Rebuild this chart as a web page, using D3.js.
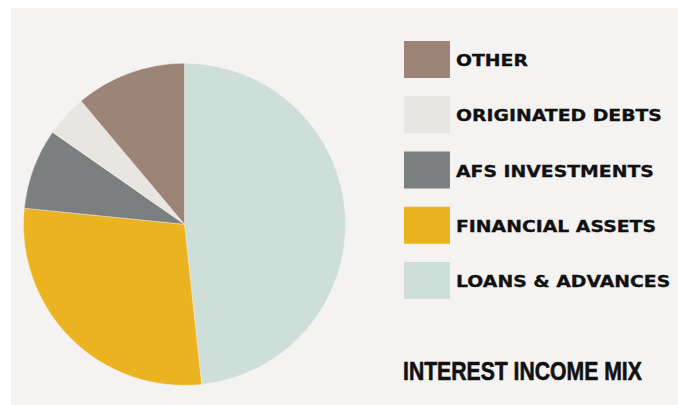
<!DOCTYPE html>
<html>
<head>
<meta charset="utf-8">
<script src="https://cdn.jsdelivr.net/npm/d3@7"></script>
<style>
  body { margin: 0; background: #ffffff; }
  svg { display: block; }
  .legend-label { font-family: "DejaVu Sans", "Liberation Sans", Arial, sans-serif; font-weight: bold; font-size: 15px; fill: #111; stroke: #111; stroke-width: 0.3px; }
  .title { font-family: "Liberation Sans Narrow", "Liberation Sans", Arial, sans-serif; font-weight: bold; font-size: 26px; fill: #111; stroke: #111; stroke-width: 0.6px; }
</style>
</head>
<body>
<svg width="678" height="405"></svg>
<script>
// **** data ****
var categories = ['LOANS & ADVANCES', 'FINANCIAL ASSETS', 'AFS INVESTMENTS', 'ORIGINATED DEBTS', 'OTHER'];
var shares = [48.3, 28.3, 8.1, 4.2, 11.1];
var colors = ['#cddfd8', '#ecb321', '#7b7f7f', '#e9e6e1', '#9c8477'];
// legend is listed top to bottom in reverse
var legendOrder = ['OTHER', 'ORIGINATED DEBTS', 'AFS INVESTMENTS', 'FINANCIAL ASSETS', 'LOANS & ADVANCES'];

var svg = d3.select('svg');

// panel
svg.append('rect')
    .attr('x', 11).attr('y', 8)
    .attr('width', 667).attr('height', 397)
    .attr('fill', '#f4f3f1');

var color = d3.scaleOrdinal().domain(categories).range(colors);

var data = categories.map(function (c, i) { return { name: c, value: shares[i] }; });

var pie = d3.pie().sort(null).value(function (d) { return d.value; });
var arc = d3.arc().innerRadius(0).outerRadius(161);

svg.append('g')
    .attr('transform', 'translate(184.5,224.3)')
    .selectAll('path')
    .data(pie(data))
    .enter()
    .append('path')
    .attr('d', arc)
    .attr('fill', function (d) { return color(d.data.name); })
    .attr('stroke', '#f4f3f1')
    .attr('stroke-width', 0.4);

// legend
var legendY = d3.scalePoint().domain(legendOrder).range([41, 262]);

var legend = svg.append('g').selectAll('g')
    .data(legendOrder)
    .enter()
    .append('g')
    .attr('transform', function (d) { return 'translate(404,' + legendY(d) + ')'; });

legend.append('rect')
    .attr('width', 46)
    .attr('height', 37)
    .attr('fill', function (d) { return color(d); });

var labels = legend.append('text')
    .attr('class', 'legend-label')
    .text(function (d) { return d; });

// the original face is an extended grotesque: stretch to match its width
var ref = labels.filter(function (d) { return d === 'ORIGINATED DEBTS'; }).node();
var sx = 206 / ref.getComputedTextLength();
labels.attr('transform', 'translate(52,25) scale(' + sx + ',1)');

// title
var title = svg.append('text')
    .attr('class', 'title')
    .text('INTEREST INCOME MIX');
var tx = 239 / title.node().getComputedTextLength();
title.attr('transform', 'translate(403,380) scale(' + tx + ',1)');
</script>
</body>
</html>
